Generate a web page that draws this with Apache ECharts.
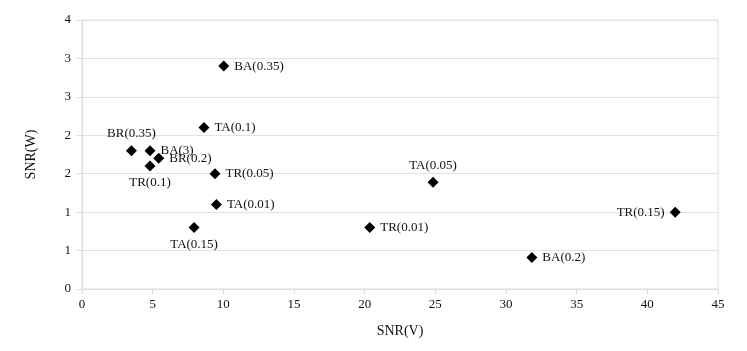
<!DOCTYPE html>
<html>
<head>
<meta charset="utf-8">
<script src="https://cdn.jsdelivr.net/npm/echarts@6/dist/echarts.min.js"></script>
<style>html,body{margin:0;padding:0;background:#fff}#c{width:747px;height:351px}</style>
</head>
<body>
<div id="c"></div>
<script>
const pointNames = ['BA(0.35)','TA(0.1)','BR(0.35)','BA(3)','BR(0.2)','TR(0.1)','TR(0.05)','TA(0.01)','TA(0.15)','TA(0.05)','TR(0.15)','BA(0.2)','TR(0.01)'];
const snrV = [10.03, 8.63, 3.50, 4.81, 5.43, 4.81, 9.41, 9.51, 7.93, 24.84, 41.97, 31.83, 20.36];
const snrW = [2.90, 2.10, 1.80, 1.80, 1.70, 1.60, 1.50, 1.10, 0.80, 1.39, 1.00, 0.41, 0.80];
const labelSides = ['right','right','top','right','right','bottom','right','right','bottom','top','left','right','right'];
const yTickLabels = ['0','1','1','2','2','3','3','4'];
const xTickLabels = ['0','5','10','15','20','25','30','35','40','45'];

const font = '"Liberation Serif", "Times New Roman", serif';
const data = snrV.map((v, i) => ({
  value: [v, snrW[i]],
  name: pointNames[i],
  label: { show: true, position: labelSides[i], formatter: pointNames[i], distance: 5 }
}));

const chart = echarts.init(document.getElementById('c'));
chart.setOption({
  animation: false,
  textStyle: { fontFamily: font },
  grid: { left: 82, right: 29, top: 20, bottom: 62, show: true, borderColor: '#dcdcdc', borderWidth: 1 },
  xAxis: {
    type: 'value', min: 0, max: 45, interval: 5,
    name: 'SNR(V)', nameLocation: 'middle', nameGap: 35,
    nameTextStyle: { fontFamily: font, fontSize: 14, color: '#111' },
    axisLine: { show: true, lineStyle: { color: '#dcdcdc' } },
    axisTick: { show: true, length: 5, lineStyle: { color: '#dcdcdc' } },
    splitLine: { show: false },
    axisLabel: { fontFamily: font, fontSize: 13, color: '#111', margin: 9,
      formatter: v => xTickLabels[Math.round(v / 5)] }
  },
  yAxis: {
    type: 'value', min: 0, max: 3.5, interval: 0.5,
    name: 'SNR(W)', nameLocation: 'middle', nameGap: 44,
    nameTextStyle: { fontFamily: font, fontSize: 14, color: '#111' },
    axisLine: { show: true, lineStyle: { color: '#dcdcdc' } },
    axisTick: { show: true, length: 5, lineStyle: { color: '#dcdcdc' } },
    splitLine: { show: true, lineStyle: { color: '#e2e2e2' } },
    axisLabel: { fontFamily: font, fontSize: 13, color: '#111', margin: 11,
      formatter: v => yTickLabels[Math.round(v / 0.5)] }
  },
  series: [{
    type: 'scatter',
    symbol: 'diamond',
    symbolSize: 11,
    itemStyle: { color: '#000', opacity: 1 },
    label: { fontFamily: font, fontSize: 13, color: '#111' },
    data: data
  }]
});
</script>
</body>
</html>
